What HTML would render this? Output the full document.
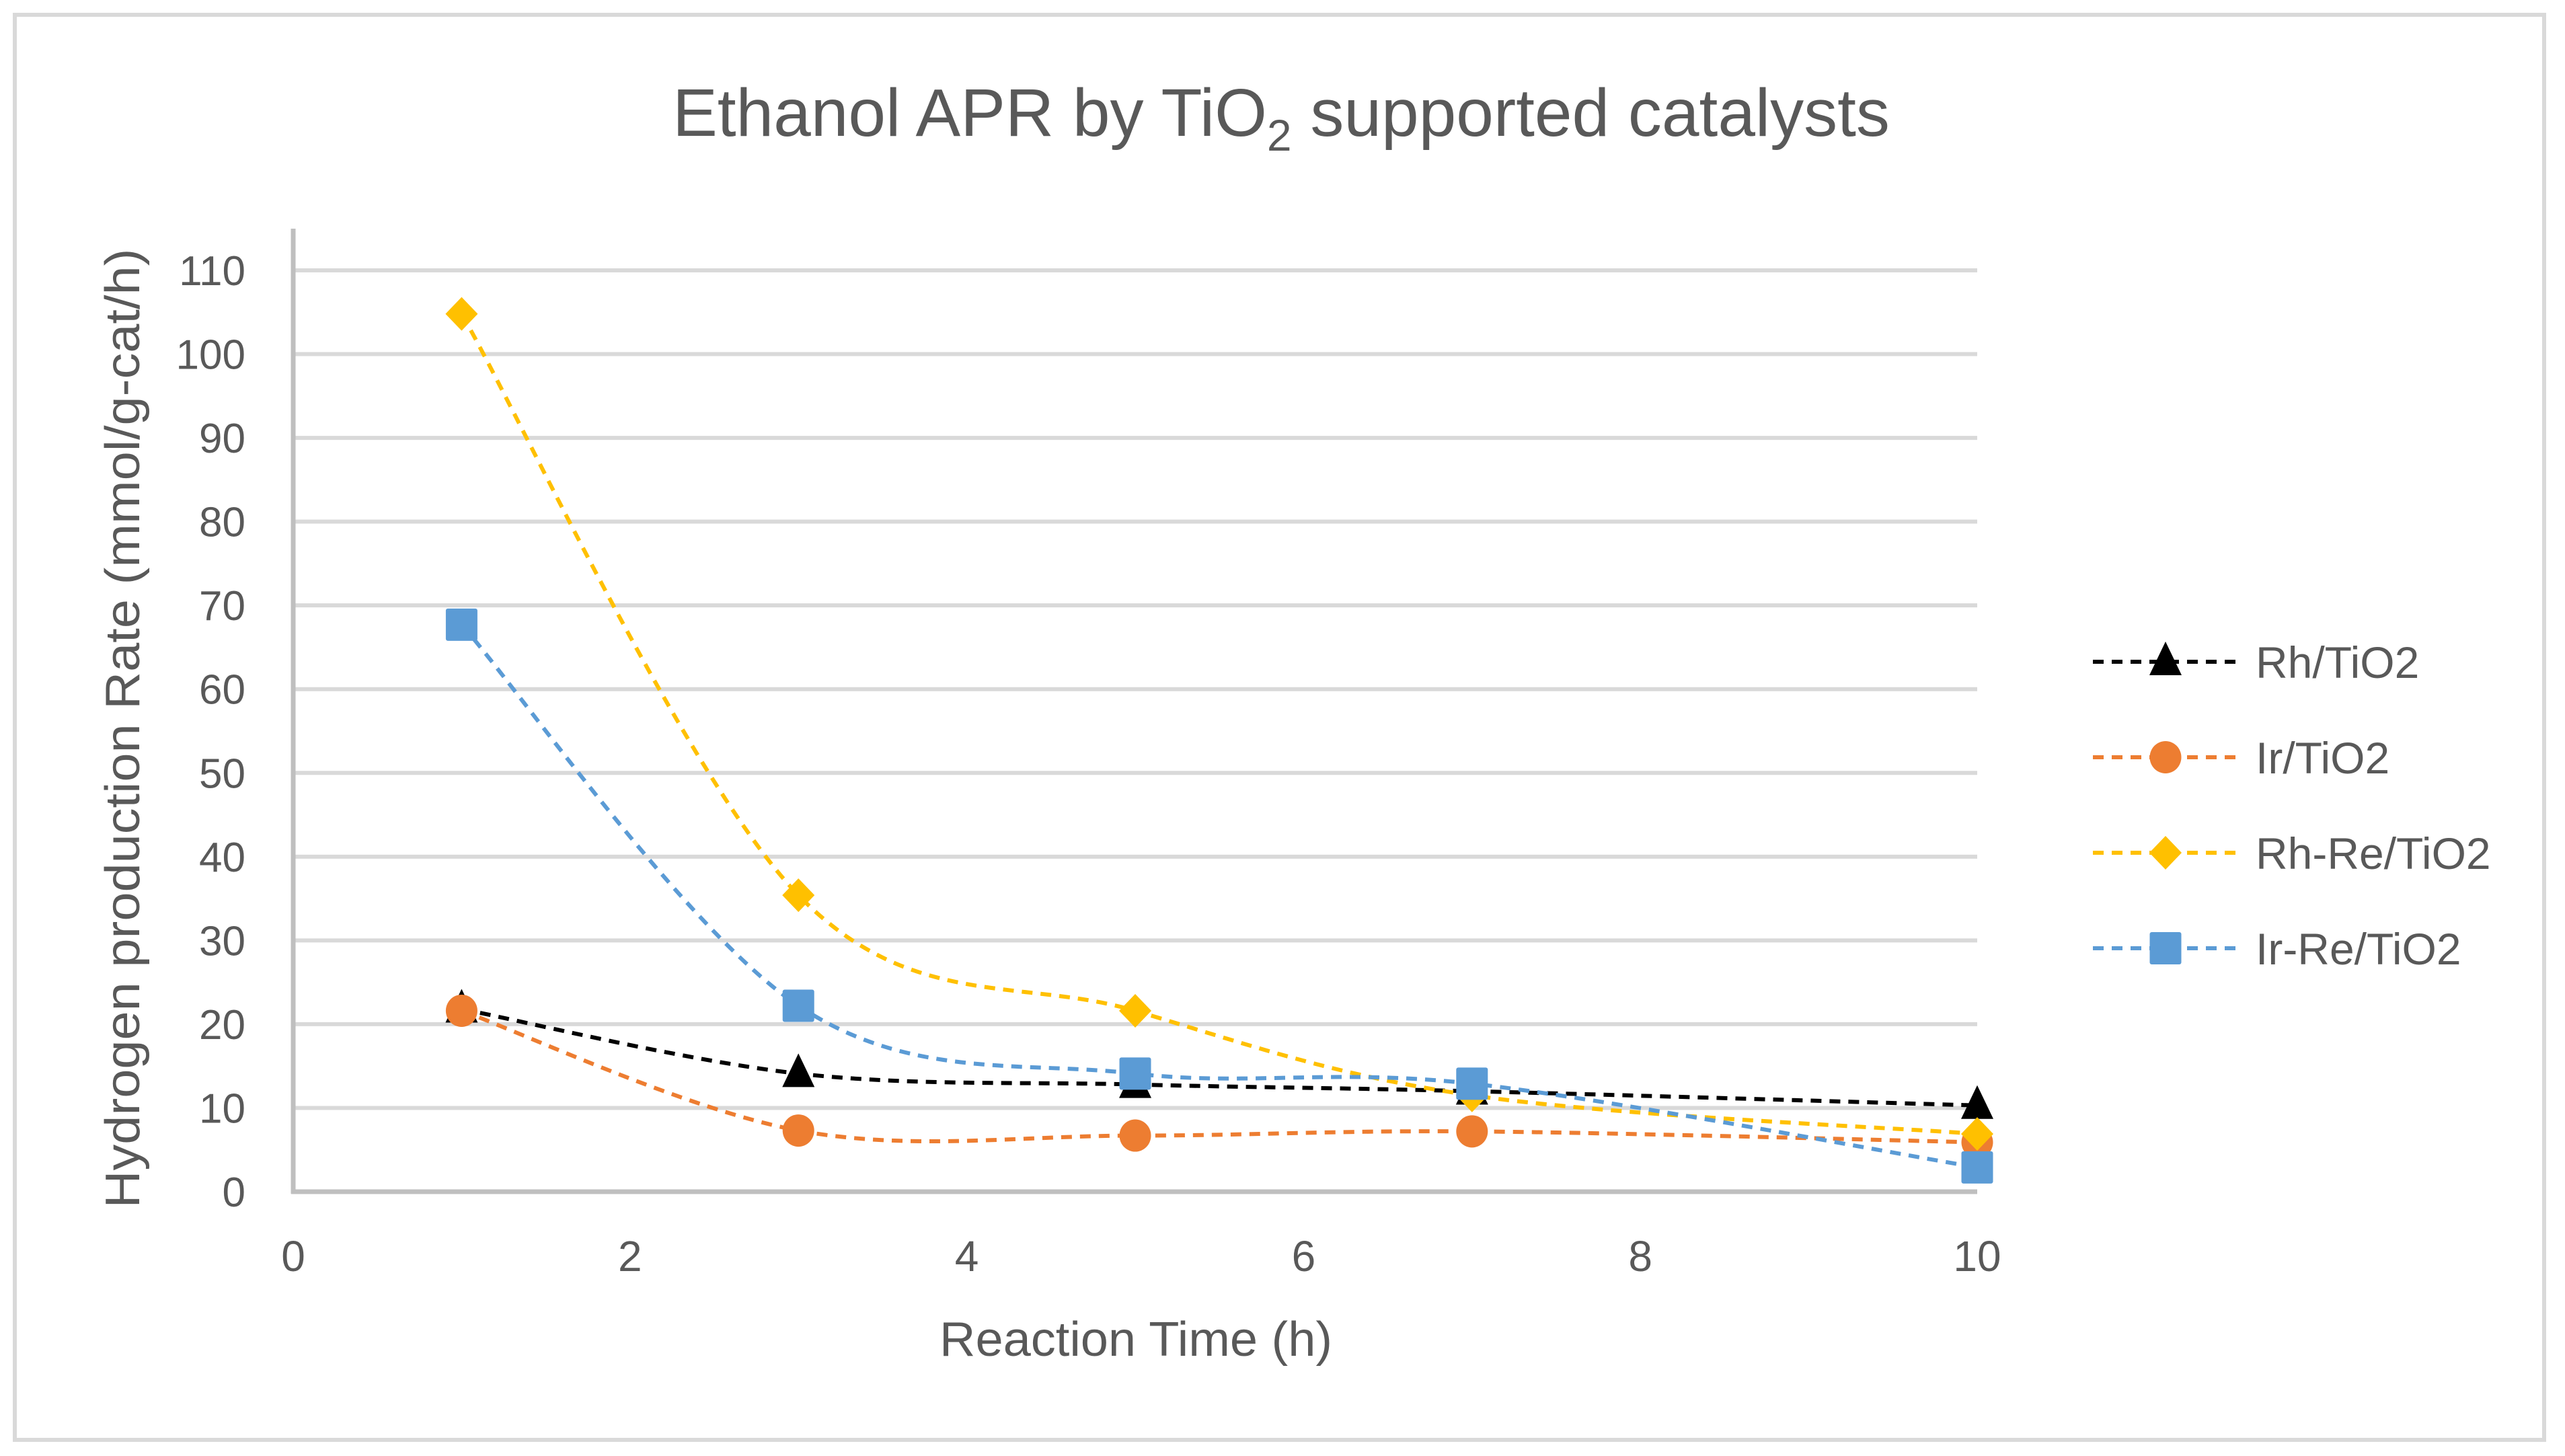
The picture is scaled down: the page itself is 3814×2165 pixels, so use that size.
<!DOCTYPE html>
<html><head><meta charset="utf-8"><style>html,body{margin:0;padding:0;background:#fff}svg{display:block}text{font-family:"Liberation Sans",sans-serif;fill:#595959}</style></head>
<body>
<svg id="chart" width="3814" height="2165" viewBox="0 0 3814 2165" xmlns="http://www.w3.org/2000/svg">
<rect x="22" y="22" width="3761" height="2119" fill="#fff" stroke="#d9d9d9" stroke-width="6"/>
<text x="1905" y="202" text-anchor="middle" font-size="100">Ethanol APR by TiO<tspan font-size="66" dy="22">2</tspan><tspan dy="-22"> supported catalysts</tspan></text>
<g id="grid"></g>
<g id="axes"></g>
<g id="series"></g>
<text x="1689" y="2016" text-anchor="middle" font-size="72" textLength="584" lengthAdjust="spacingAndGlyphs">Reaction Time (h)</text>
<text transform="translate(207,1083) rotate(-90)" text-anchor="middle" font-size="72" textLength="1427" lengthAdjust="spacingAndGlyphs">Hydrogen production Rate (mmol/g-cat/h)</text>
<g id="legend"></g>
</svg>
<script>
const xValues = [1, 3, 5, 7, 10];
const rhValues = [21.8, 14.1, 12.8, 12.0, 10.3];
const irValues = [21.6, 7.3, 6.7, 7.2, 5.9];
const rhReValues = [104.8, 35.4, 21.6, 11.5, 6.9];
const irReValues = [67.7, 22.2, 14.1, 12.9, 2.9];
const seriesNames = ["Rh/TiO2", "Ir/TiO2", "Rh-Re/TiO2", "Ir-Re/TiO2"];
const yTicks = [0,10,20,30,40,50,60,70,80,90,100,110];
const xTicks = [0,2,4,6,8,10];

const NS = "http://www.w3.org/2000/svg";
const X0 = 436, X1 = 2940, Y0 = 1772, Y1 = 402;
function sx(v){ return X0 + (v-0)/(10-0)*(X1-X0); }
function sy(v){ return Y0 - (v-0)/(110-0)*(Y0-Y1); }
function mk(tag, attrs, parent){ const e=document.createElementNS(NS,tag); for(const k in attrs) e.setAttribute(k,attrs[k]); parent.appendChild(e); return e; }

const grid=document.getElementById('grid'), axes=document.getElementById('axes'), ser=document.getElementById('series'), leg=document.getElementById('legend');
yTicks.forEach(t=>{
  if(t>0){ const g=mk('line',{x1:X0,x2:X1,y1:sy(t),y2:sy(t),stroke:'#d9d9d9','stroke-width':6},grid);
  
   }
  const tx=mk('text',{x:365,y:sy(t)+22,'text-anchor':'end','font-size':62},axes);
  tx.textContent=t;
  
  
});
xTicks.forEach(t=>{
  const tx=mk('text',{x:sx(t),y:1890,'text-anchor':'middle','font-size':64},axes);
  tx.textContent=t;
  
  
});
const ya=mk('line',{x1:X0,x2:X0,y1:340,y2:Y0+3,stroke:'#bfbfbf','stroke-width':7},axes);


const xa=mk('line',{x1:X0-3,x2:X1,y1:Y0,y2:Y0,stroke:'#bfbfbf','stroke-width':7},axes);



function smoothPath(pts){
  let d='M'+pts[0][0]+','+pts[0][1];
  for(let i=0;i<pts.length-1;i++){
    const p0=pts[Math.max(0,i-1)], p1=pts[i], p2=pts[i+1], p3=pts[Math.min(pts.length-1,i+2)];
    const c1=[p1[0]+(p2[0]-p0[0])/6, p1[1]+(p2[1]-p0[1])/6];
    const c2=[p2[0]-(p3[0]-p1[0])/6, p2[1]-(p3[1]-p1[1])/6];
    d+=' C'+c1[0]+','+c1[1]+' '+c2[0]+','+c2[1]+' '+p2[0]+','+p2[1];
  }
  return d;
}
function marker(type,cx,cy,color,parent){
  let e;
  if(type==='tri') e=mk('polygon',{points:(cx)+','+(cy-30)+' '+(cx+24)+','+(cy+20)+' '+(cx-24)+','+(cy+20),fill:color},parent);
  else if(type==='circ') e=mk('ellipse',{cx:cx,cy:cy,rx:23.5,ry:24,fill:color},parent);
  else if(type==='dia') e=mk('polygon',{points:cx+','+(cy-25)+' '+(cx+24)+','+cy+' '+cx+','+(cy+25)+' '+(cx-24)+','+cy,fill:color},parent);
  else e=mk('rect',{x:cx-23.5,y:cy-24,width:47,height:48,rx:3,fill:color},parent);
  return e;
}
const allSeries=[[rhValues,'#000000','tri'],[irValues,'#ed7d31','circ'],[rhReValues,'#ffc000','dia'],[irReValues,'#5b9bd5','sq']];
allSeries.forEach((s,si)=>{
  const g=mk('g',{},ser);
  
  
  const pts=xValues.map((x,i)=>[sx(x),sy(s[0][i])]);
  const p=mk('path',{d:smoothPath(pts),fill:'none',stroke:s[1],'stroke-width':6,'stroke-dasharray':'16 12'},g);
  
  
  pts.forEach((pt,i)=>{
    const m=marker(s[2],pt[0],pt[1],s[1],g);
    
    
  });
  const ly=984+si*142;
  const lg=mk('g',{},leg);
  
  
  mk('line',{x1:3112,x2:3327,y1:ly,y2:ly,stroke:s[1],'stroke-width':6,'stroke-dasharray':'16 12'},lg);
  marker(s[2],3220,ly,s[1],lg);
  const t=mk('text',{x:3354,y:ly+24,'font-size':66},lg);
  t.textContent=seriesNames[si];
});
</script>
</body></html>
